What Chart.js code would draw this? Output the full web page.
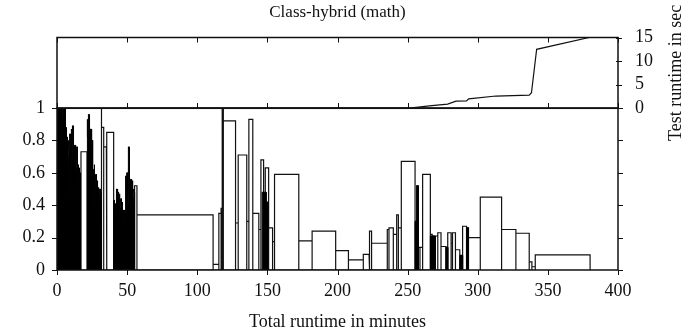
<!DOCTYPE html>
<html>
<head>
<meta charset="utf-8">
<script src="https://cdn.jsdelivr.net/npm/chart.js@4/dist/chart.umd.min.js"></script>
<style>
  html, body { margin: 0; padding: 0; background: #fff; }
  #wrap { position: relative; width: 685px; height: 331px; }
  #wrap canvas { position: absolute; left: 0; top: 0; }
</style>
</head>
<body>
<div id="wrap">
  <canvas id="bars" width="685" height="331"></canvas>
  <canvas id="runtime" width="685" height="331"></canvas>
</div>
<script>
// tick values
const xTickValues = [0, 50, 100, 150, 200, 250, 300, 350, 400];
const barTickValues = [0, 0.2, 0.4, 0.6, 0.8, 1];
const runtimeTickValues = [0, 5, 10, 15];

// packed clusters of narrow bars (drawn filled): bar i spans denseEdges[i]..denseEdges[i+1]
const denseEdges = [
  0, 0.5, 1, 1.5, 2, 2.5, 3, 3.5, 4, 4.5, 5, 5.5, 6, 6.5, 7, 7.5, 8, 8.5, 9, 9.5,
  10, 10.5, 11, 11.5, 12, 12.5, 13, 13.5, 14, 14.5, 15, 15.5, 16, 16.5, 17,
  21.4, 21.9, 22.4, 22.9, 23.4, 23.9, 24.4, 24.9, 25.4, 25.9, 26.4, 26.9, 27.4, 27.9,
  28.4, 28.9, 29.4, 29.9, 30.4, 30.9, 31.4,
  40.4, 40.9, 41.4, 41.9, 42.4, 42.9, 43.4, 43.9, 44.4, 44.9, 45.4, 45.9, 46.4, 46.9,
  47.4, 47.9, 48.4, 48.9, 49.4, 49.9, 50.4, 50.9, 51.4, 51.9, 52.4, 52.9, 53.4, 53.9,
  54.4, 54.9, 55.3,
  146.3, 149.1, 150.3, 255.3, 256.5, 257.5, 266.2, 269.6, 277.3, 278.6, 287.2, 289.2, 292.0, 293.4
];
const denseHeights = [
  1, 1, 1, 0.98, 1, 0.97, 1, 0.95, 1, 0.92, 0.9, 1, 0.88, 0.76, 0.82, 0.7, 0.8, 0.74,
  0.84, 0.72, 0.87, 0.68, 0.89, 0.7, 0.66, 0.77, 0.64, 0.62, 0.76, 0.65, 0.6, 0.63, 0.6, 0.58,
  0,
  0.93, 0.82, 0.96, 0.86, 0.7, 0.87, 0.72, 0.8, 0.62, 0.58, 0.65, 0.52, 0.59, 0.5, 0.55,
  0.5, 0.51, 0.46, 0.5, 0.48,
  0,
  0.43, 0.36, 0.41, 0.38, 0.5, 0.44, 0.48, 0.4, 0.47, 0.38, 0.44, 0.33, 0.42, 0.3, 0.37,
  0.27, 0.35, 0.58, 0.45, 0.6, 0.4, 0.76, 0.42, 0.5, 0.56, 0.47, 0.55, 0.45, 0.5, 0.48,
  0, 0.48, 0.42, 0, 0.3, 0.52, 0, 0.21, 0, 0.14, 0, 0.09, 0, 0.26
];

// outlined boxes (minutes from, minutes to, height)
const boxStart = [
  5.5, 17.1, 31.4, 31.8, 33.3, 35.6, 55.3, 57.0, 111.3, 115.4, 117.0, 117.8, 118.6, 127.3,
  129.2, 135.3, 136.8, 139.6, 143.9, 145.4, 147.3, 148.5, 150.9, 153.7, 155.1, 172.4, 181.9,
  198.7, 207.8, 218.4, 223.0, 224.3, 235.5, 236.7, 239.8, 242.2, 243.4, 245.5, 255.3, 256.5,
  257.5, 258.8, 260.7, 266.2, 267.5, 268.6, 269.6, 271.5, 273.8, 277.3, 278.6, 281.0, 282.0,
  284.1, 287.2, 289.2, 292.0, 293.4, 301.8, 317.0, 327.2, 336.7, 338.6, 341.0
];
const boxEnd = [
  6.0, 21.4, 31.8, 33.3, 35.2, 40.4, 57.0, 111.3, 115.4, 117.0, 117.8, 118.6, 127.3, 129.2,
  135.3, 136.8, 139.6, 143.9, 145.4, 147.3, 148.5, 150.9, 153.7, 155.1, 172.4, 181.9, 198.7,
  207.8, 218.4, 222.5, 224.3, 235.5, 236.7, 239.8, 242.2, 243.4, 245.5, 255.3, 256.5, 257.5,
  258.8, 260.7, 266.2, 267.5, 268.6, 269.6, 271.5, 273.8, 277.3, 278.6, 281.0, 282.0, 284.1,
  287.2, 289.2, 292.0, 293.4, 301.8, 317.0, 327.2, 336.7, 338.6, 341.0, 380.1
];
const boxHeight = [
  1.0, 0.73, 1.0, 0.88, 0.76, 0.85, 0.52, 0.34, 0.035, 0.35, 0.38, 1.0, 0.92, 0.29,
  0.71, 0.30, 0.93, 0.35, 0.25, 0.68, 0.45, 0.63, 0.26, 0.175, 0.59, 0.18, 0.24,
  0.12, 0.062, 0.097, 0.24, 0.165, 0.25, 0.26, 0.22, 0.34, 0.26, 0.67, 0.30, 0.52,
  0.14, 0.14, 0.59, 0.22, 0.21, 0.20, 0.21, 0.23, 0.145, 0.14, 0.23, 0.165, 0.23,
  0.125, 0.09, 0.27, 0.26, 0.20, 0.45, 0.25, 0.227, 0.05, 0.02, 0.093
];

// test runtime curve (top panel)
const runtimeMinutes = [0, 185, 253, 265.5, 278.5, 284.5, 292, 293.5, 313, 336.7, 338.3, 342, 379.5];
const runtimeSeconds = [0, 0.02, 0.1, 0.5, 0.9, 1.5, 1.56, 2.0, 2.6, 2.8, 3.3, 12.5, 15];

const FONT = { family: "'Liberation Serif', 'DejaVu Serif', serif", size: 18 };
const INK = "#111";

function rectPath(x0, x1, h, out) {
  out.push({ x: x0, y: 0 }, { x: x0, y: h }, { x: x1, y: h }, { x: x1, y: 0 });
}

const densePts = [];
for (let i = 0; i < denseHeights.length; i++) rectPath(denseEdges[i], denseEdges[i + 1], denseHeights[i], densePts);

const boxPts = [];
for (let i = 0; i < boxStart.length; i++) rectPath(boxStart[i], boxEnd[i], boxHeight[i], boxPts);

const runtimePts = runtimeMinutes.map((m, i) => ({ x: m, y: runtimeSeconds[i] }));

function setTicks(values) {
  return (s) => { s.ticks = values.map((v) => ({ value: v })); };
}
const plainLabel = (v) => String(v);

// frame + small tick marks for the lower panel
const barsFrame = {
  id: "barsFrame",
  afterDraw(chart) {
    const { ctx, chartArea: a, scales } = chart;
    ctx.save();
    ctx.strokeStyle = INK;
    ctx.lineWidth = 1.5;
    ctx.strokeRect(a.left, a.top, a.right - a.left, a.bottom - a.top);
    ctx.lineWidth = 1;
    ctx.beginPath();
    for (const v of xTickValues) {
      const px = Math.round(scales.x.getPixelForValue(v)) + 0.5;
      ctx.moveTo(px, a.bottom); ctx.lineTo(px, a.bottom + 5);
      ctx.moveTo(px, a.top); ctx.lineTo(px, a.top - 5);
    }
    for (const v of barTickValues) {
      const py = Math.round(scales.y.getPixelForValue(v)) + 0.5;
      ctx.moveTo(a.left - 5, py); ctx.lineTo(a.left, py);
      ctx.moveTo(a.right, py); ctx.lineTo(a.right + 5, py);
    }
    ctx.stroke();
    ctx.restore();
  },
};

// frame, tick marks and titles for the upper panel
const runtimeFrame = {
  id: "runtimeFrame",
  afterDraw(chart) {
    const { ctx, chartArea: a, scales } = chart;
    ctx.save();
    ctx.strokeStyle = INK;
    ctx.lineWidth = 1.5;
    ctx.strokeRect(a.left, a.top, a.right - a.left, a.bottom - a.top);
    ctx.lineWidth = 1;
    ctx.beginPath();
    for (const v of xTickValues) {
      const px = Math.round(scales.x.getPixelForValue(v)) + 0.5;
      ctx.moveTo(px, a.top); ctx.lineTo(px, a.top + 5);
    }
    for (const v of runtimeTickValues) {
      const py = Math.round(scales.y.getPixelForValue(v)) + 0.5;
      ctx.moveTo(a.right - 2, py); ctx.lineTo(a.right + 4, py);
    }
    ctx.stroke();

    ctx.fillStyle = INK;
    ctx.textAlign = "center";
    ctx.textBaseline = "middle";
    ctx.font = "17px " + FONT.family;
    ctx.fillText("Class-hybrid (math)", (a.left + a.right) / 2, 13);

    ctx.font = FONT.size + "px " + FONT.family;
    ctx.translate(676, (a.top + a.bottom) / 2);
    ctx.rotate(-Math.PI / 2);
    ctx.fillText("Test runtime in sec", 0, 0);
    ctx.restore();
  },
};

new Chart(document.getElementById("bars"), {
  type: "scatter",
  data: {
    datasets: [
      {
        data: densePts,
        showLine: true,
        fill: "origin",
        backgroundColor: "#000",
        borderColor: "#000",
        borderWidth: 1,
        pointRadius: 0,
      },
      {
        data: boxPts,
        showLine: true,
        fill: false,
        borderColor: INK,
        borderWidth: 1.2,
        pointRadius: 0,
      },
    ],
  },
  options: {
    responsive: false,
    animation: false,
    layout: { padding: { top: 108, right: 67, left: 0, bottom: 0 } },
    plugins: { legend: { display: false }, tooltip: { enabled: false } },
    scales: {
      x: {
        type: "linear",
        min: 0,
        max: 400,
        afterBuildTicks: setTicks(xTickValues),
        ticks: { color: INK, font: FONT, padding: 2, maxRotation: 0, autoSkip: false, callback: plainLabel },
        grid: { display: false },
        border: { display: false },
        title: { display: true, text: "Total runtime in minutes", color: INK, font: FONT, padding: { top: 0, bottom: -2 } },
        afterFit: (s) => { s.height = 61; },
      },
      y: {
        min: 0,
        max: 1,
        afterBuildTicks: setTicks(barTickValues),
        ticks: { color: INK, font: FONT, padding: 4, autoSkip: false, callback: plainLabel },
        grid: { display: false },
        border: { display: false },
        afterFit: (s) => { s.width = 57; },
      },
    },
  },
  plugins: [barsFrame],
});

new Chart(document.getElementById("runtime"), {
  type: "scatter",
  data: {
    datasets: [
      {
        data: runtimePts,
        showLine: true,
        fill: false,
        borderColor: INK,
        borderWidth: 1.2,
        pointRadius: 0,
      },
    ],
  },
  options: {
    responsive: false,
    animation: false,
    layout: { padding: { top: 37.5, right: 0, left: 57, bottom: 222.7 } },
    plugins: { legend: { display: false }, tooltip: { enabled: false } },
    scales: {
      x: {
        type: "linear",
        min: 0,
        max: 400,
        ticks: { display: false },
        grid: { display: false },
        border: { display: false },
        afterFit: (s) => { s.height = 0; },
      },
      y: {
        position: "right",
        min: 0,
        max: 15,
        afterBuildTicks: setTicks(runtimeTickValues),
        ticks: { color: INK, font: FONT, padding: 9, autoSkip: false, callback: plainLabel },
        grid: { display: false },
        border: { display: false },
        afterFit: (s) => { s.width = 67; },
      },
    },
  },
  plugins: [runtimeFrame],
});
</script>
</body>
</html>
